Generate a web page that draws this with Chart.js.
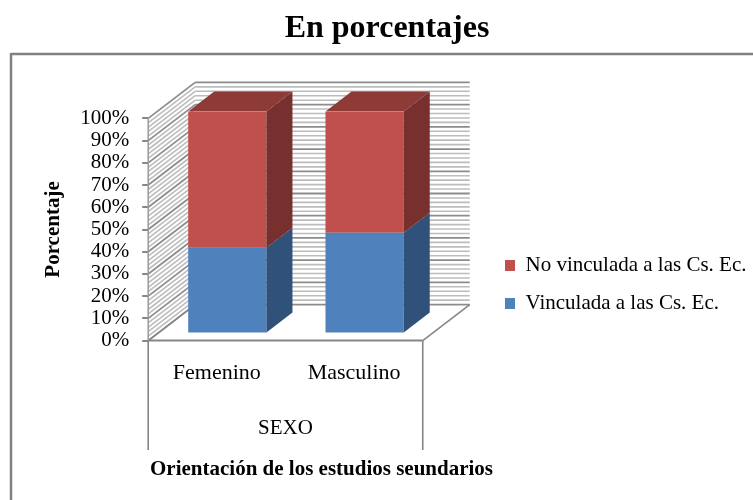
<!DOCTYPE html>
<html>
<head>
<meta charset="utf-8">
<style>
  html, body { margin: 0; padding: 0; background: #fff; }
  #wrap { width: 753px; height: 500px; }
</style>
<script src="https://cdn.jsdelivr.net/npm/chart.js@4"></script>
</head>
<body>
<div id="wrap"><canvas id="chart" width="753" height="500"></canvas></div>
<script>
const categories = ["Femenino", "Masculino"];
const vinculada = [38.6, 45.4];
const noVinculada = [61.4, 54.6];
const seriesNames = ["Vinculada a las Cs. Ec.", "No vinculada a las Cs. Ec."];
const yTicks = [0, 10, 20, 30, 40, 50, 60, 70, 80, 90, 100];

const serif = "'Liberation Serif', serif";
const gray = "#868686";

// bars sit forward of the walls in the original 3D look
const barShift = { x: 10.5, y: -7 };
const barDepth = { x: 26, y: -20 };
const wallDepth = { x: 47, y: -36 };

function poly(ctx, pts, fill) {
  ctx.beginPath();
  pts.forEach((p, i) => (i ? ctx.lineTo(p[0], p[1]) : ctx.moveTo(p[0], p[1])));
  ctx.closePath();
  ctx.fillStyle = fill;
  ctx.fill();
}

function line(ctx, x1, y1, x2, y2, color, width) {
  ctx.beginPath();
  ctx.moveTo(x1, y1);
  ctx.lineTo(x2, y2);
  ctx.strokeStyle = color;
  ctx.lineWidth = width;
  ctx.stroke();
}

const fake3d = {
  id: "fake3d",
  afterLayout(chart) {
    // legend and title keep their own drawing, only the box moves
    const lg = chart.legend;
    lg.left = 488;
    lg.right = 753;
    lg.top = 238;
    lg.bottom = 500;
    chart.titleBlock.left = 21;
    chart.titleBlock.right = 753;
  },
  beforeDraw(chart) {
    const ctx = chart.ctx;
    // outer frame, open at the right and bottom
    line(ctx, 753, 54, 11, 54, "#808080", 2.5);
    line(ctx, 11, 53, 11, 500, "#808080", 2.5);
  },
  beforeDatasetsDraw(chart) {
    const ctx = chart.ctx;
    const y = chart.scales.y;
    const a = chart.chartArea;
    const d = wallDepth;
    ctx.save();
    for (let v = 0; v <= 100; v += 2) {
      const py = y.getPixelForValue(v);
      const major = v % 10 === 0;
      const color = major ? "#8c8c8c" : "#bcbcbc";
      const w = major ? 1.8 : 1.6;
      line(ctx, a.left, py, a.left + d.x, py + d.y, color, w);
      line(ctx, a.left + d.x, py + d.y, a.right + d.x, py + d.y, color, w);
    }
    line(ctx, a.left, a.bottom, a.right, a.bottom, gray, 2);
    line(ctx, a.right, a.bottom, a.right + d.x, a.bottom + d.y, gray, 1.6);
    line(ctx, a.left, a.bottom, a.left + d.x, a.bottom + d.y, gray, 1.6);
    line(ctx, a.left, a.top, a.left, a.bottom, "#9a9a9a", 1.5);
    ctx.restore();
    ctx.save();
    ctx.translate(barShift.x, barShift.y);
  },
  afterDatasetsDraw(chart) {
    const ctx = chart.ctx;
    const d = barDepth;
    const sideColors = ["#30517a", "#77302e"];
    const lastSet = chart.data.datasets.length - 1;
    chart.data.datasets.forEach((ds, i) => {
      chart.getDatasetMeta(i).data.forEach((bar) => {
        const r = bar.x + bar.width / 2;
        const l = bar.x - bar.width / 2;
        poly(ctx, [[r, bar.y], [r + d.x, bar.y + d.y], [r + d.x, bar.base + d.y], [r, bar.base]], sideColors[i]);
        if (i === lastSet) {
          poly(ctx, [[l, bar.y], [l + d.x, bar.y + d.y], [r + d.x, bar.y + d.y], [r, bar.y]], "#8e3b38");
        }
      });
    });
    ctx.restore();
  },
  afterDraw(chart) {
    const ctx = chart.ctx;
    const a = chart.chartArea;
    // two level category axis: side rules, group label, axis title
    line(ctx, a.left, a.bottom, a.left, 450, gray, 1.6);
    line(ctx, a.right, a.bottom, a.right, 450, gray, 1.6);
    ctx.save();
    ctx.fillStyle = "#000";
    ctx.font = "21px " + serif;
    ctx.textAlign = "center";
    ctx.textBaseline = "middle";
    ctx.fillText("SEXO", (a.left + a.right) / 2, 428);
    ctx.font = "bold 21px " + serif;
    ctx.textAlign = "left";
    ctx.fillText("Orientación de los estudios seundarios", 150, 470);
    ctx.restore();
  },
};

new Chart(document.getElementById("chart"), {
  type: "bar",
  plugins: [fake3d],
  data: {
    labels: categories,
    datasets: [
      { label: seriesNames[0], data: vinculada, backgroundColor: "#4f81bd", barPercentage: 0.57, categoryPercentage: 1 },
      { label: seriesNames[1], data: noVinculada, backgroundColor: "#c0504d", barPercentage: 0.57, categoryPercentage: 1 },
    ],
  },
  options: {
    responsive: false,
    animation: false,
    layout: { padding: { left: 41, right: 203, top: 0, bottom: 103 } },
    scales: {
      x: {
        stacked: true,
        grid: { display: false },
        border: { display: false },
        ticks: { color: "#000", font: { family: serif, size: 22 }, padding: 11, maxRotation: 0 },
      },
      y: {
        stacked: true,
        min: 0,
        max: 100,
        afterBuildTicks(axis) {
          axis.ticks = yTicks.map((v) => ({ value: v }));
        },
        grid: { drawOnChartArea: false, color: gray, tickLength: 6, lineWidth: 2 },
        border: { display: false },
        ticks: {
          color: "#000",
          font: { family: serif, size: 21 },
          padding: 13,
          autoSkip: false,
          callback: (v) => v + "%",
        },
        title: {
          display: true,
          text: "Porcentaje",
          color: "#000",
          font: { family: serif, size: 21, weight: "bold" },
          padding: { top: 0, bottom: 1 },
        },
      },
    },
    plugins: {
      title: {
        display: true,
        text: "En porcentajes",
        color: "#000",
        font: { family: serif, size: 32, weight: "bold" },
        padding: { top: 10, bottom: 70 },
      },
      legend: {
        position: "right",
        align: "start",
        reverse: true,
        labels: {
          color: "#000",
          font: { family: serif, size: 21 },
          boxWidth: 10,
          boxHeight: 11,
          padding: 17,
        },
      },
      tooltip: { enabled: false },
    },
  },
});
</script>
</body>
</html>
